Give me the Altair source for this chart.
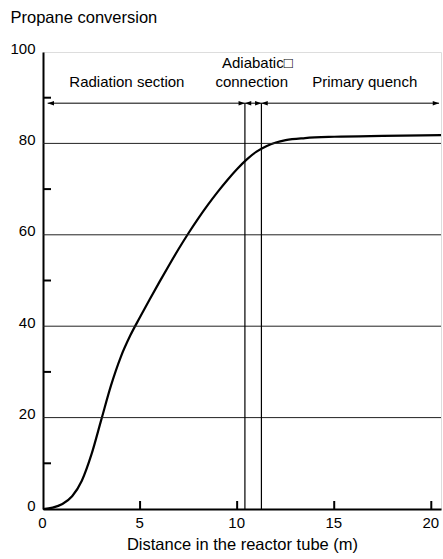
import altair as alt
import pandas as pd

# Curve: propane conversion vs distance
dist = [0, 0.5, 1.0, 1.5, 2.0, 2.5, 3.0, 3.5, 4.0, 4.5, 5.0, 5.5, 6.0, 6.5, 7.0, 7.5, 8.0, 8.5, 9.0, 9.5, 10.0, 10.5, 11.0, 11.5, 12.0, 12.5, 13.5, 15.0, 17.5, 20.5]
conv = [0, 0.3, 1.1, 2.8, 6.2, 12.0, 19.5, 27.0, 33.2, 38.0, 42.0, 45.9, 49.7, 53.4, 57.0, 60.4, 63.6, 66.6, 69.4, 72.0, 74.4, 76.5, 78.2, 79.4, 80.2, 80.7, 81.15, 81.45, 81.65, 81.8]

grid_vals = [20, 40, 60, 80]
minor_y = [10, 30, 50, 70, 90]
x_ticks = [0, 5, 10, 15, 20]
y_ticks = [0, 20, 40, 60, 80, 100]

section_bounds = [10.4, 11.25]
arrow_level = 88.8
arrow_start = 0.24
arrow_end = 20.4
right_tips = [10.4, 11.25, 20.4]
left_tips = [0.24, 10.4, 11.25]

labels = ["Radiation section", "Adiabatic\u25a1", "connection", "Primary quench"]
label_x = [4.32, 11.04, 10.75, 16.57]
label_y = [93.5, 97.5, 93.5, 93.5]

W, H = 398, 457
FONT = "Liberation Sans"

xs = alt.Scale(domain=[0, 20.5], nice=False, zero=False)
ys = alt.Scale(domain=[0, 100], nice=False)

curve_df = pd.DataFrame({"x": dist, "y": conv})

curve = alt.Chart(curve_df).mark_line(color="black", strokeWidth=2.2, interpolate="monotone").encode(
    x=alt.X("x:Q", scale=xs, title="Distance in the reactor tube (m)",
            axis=alt.Axis(values=x_ticks, ticks=False, grid=False, domainColor="black", domainWidth=2,
                          labelFontSize=15, labelPadding=6, labelColor="black", labelFont=FONT,
                          labelFlush=False, labelOffset=-1,
                          titleFontSize=16.5, titleFont=FONT, titleFontWeight="normal", titleColor="black",
                          titlePadding=6)),
    y=alt.Y("y:Q", scale=ys, title="Propane conversion",
            axis=alt.Axis(values=y_ticks, ticks=False, grid=False, domainColor="black", domainWidth=2,
                          labelFontSize=15, labelPadding=8, labelColor="black", labelFont=FONT,
                          labelOffset=-4, labelFlush=False,
                          titleFontSize=16.5, titleFont=FONT, titleFontWeight="normal", titleColor="black",
                          titleAngle=0, titleAlign="left", titleBaseline="middle", titleX=-33, titleY=-35)),
)

grid = alt.Chart(pd.DataFrame({"y": grid_vals})).mark_rule(color="#222", strokeWidth=1).encode(
    y=alt.Y("y:Q", scale=ys), x=alt.value(0), x2=alt.value(W)
)

minor = alt.Chart(pd.DataFrame({"y": minor_y})).mark_rule(color="black", strokeWidth=2).encode(
    y=alt.Y("y:Q", scale=ys), x=alt.value(0), x2=alt.value(8)
)

xt = alt.Chart(pd.DataFrame({"x": x_ticks[1:]})).mark_rule(color="black", strokeWidth=2).encode(
    x=alt.X("x:Q", scale=xs), y=alt.value(H), y2=alt.value(H - 8)
)

vlines = alt.Chart(pd.DataFrame({"x": section_bounds, "y": [0, 0], "y2": [arrow_level, arrow_level]})).mark_rule(
    color="black", strokeWidth=1.2
).encode(x=alt.X("x:Q", scale=xs), y=alt.Y("y:Q", scale=ys), y2="y2:Q")

arrow = alt.Chart(pd.DataFrame({"x": [arrow_start], "x2": [arrow_end], "y": [arrow_level]})).mark_rule(
    color="black", strokeWidth=1
).encode(x=alt.X("x:Q", scale=xs), x2="x2:Q", y=alt.Y("y:Q", scale=ys))

rheads = alt.Chart(pd.DataFrame({"x": right_tips, "y": [arrow_level] * len(right_tips)})).mark_point(
    shape="M0,0L-2,-0.7L-2,0.7Z", filled=True, color="black", size=40, opacity=1
).encode(x=alt.X("x:Q", scale=xs), y=alt.Y("y:Q", scale=ys))

lheads = alt.Chart(pd.DataFrame({"x": left_tips, "y": [arrow_level] * len(left_tips)})).mark_point(
    shape="M0,0L2,-0.7L2,0.7Z", filled=True, color="black", size=40, opacity=1
).encode(x=alt.X("x:Q", scale=xs), y=alt.Y("y:Q", scale=ys))

texts = alt.Chart(pd.DataFrame({"x": label_x, "y": label_y, "t": labels})).mark_text(
    font=FONT, fontSize=15, color="black", align="center", baseline="middle"
).encode(x=alt.X("x:Q", scale=xs), y=alt.Y("y:Q", scale=ys), text="t:N")

chart = alt.layer(curve, grid, vlines, arrow, rheads, lheads, minor, xt, texts).properties(
    width=W, height=H,
    autosize=alt.AutoSizeParams(type="none"),
    padding={"left": 43, "top": 52, "right": 2, "bottom": 50},
).configure_view(stroke="black", strokeWidth=2).configure(background="white")

chart.save("out.html", embed_options={"renderer": "svg", "actions": False})
